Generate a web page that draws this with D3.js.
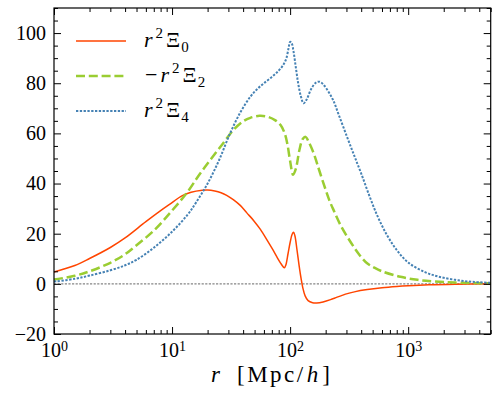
<!DOCTYPE html>
<html><head><meta charset="utf-8">
<script src="https://cdn.jsdelivr.net/npm/d3@7"></script>
<style>body{margin:0;background:#fff}svg{display:block}</style>
</head><body><svg id="c" width="499" height="395"></svg>
<script>
// ---- data ----
const r0  = [1,1.5,2,3,4,6,8,10,12,14.5,18,20,23,26,29,33,38,43,49,56,64,72,78,83,87,89.5,92,96,100,104,107,110,114,119,124,128,134,142,155,168,190,220,250,280,300,350,450,600,800,1000,1500,2500,5000];
const xi0 = [4.7,7.3,10.1,14.5,18.3,24.8,29.2,32.4,35,36.5,37.3,37.4,37.0,36.3,35.3,33.6,31.2,28.3,25.3,21.7,17.3,13.3,10.4,8.3,6.9,6.4,7.5,12,16.5,19.8,20.6,19,14,7.5,2,-1.5,-4.8,-6.7,-7.5,-7.6,-7.2,-6.3,-5.3,-4.5,-4.0,-3.2,-2.3,-1.6,-1.1,-0.8,-0.4,-0.15,0];

const r2  = [1,1.5,2,3,4,5,7,10,13.5,17,21,27,33,40,46,55,65,75,83,90,95,100,106,112,120,128,135,145,160,169,180,200,215,234,270,324,380,449,511,600,860,1200,1650,2500,5000];
const xi2 = [1.7,3.2,5.0,8.4,11.8,15.4,21.2,29.2,36.6,43.5,49.3,56,61.3,64.8,66.2,67,66.6,65.2,63.3,60,55.5,49,43.5,46,53.5,57.8,58.6,56.2,51.5,48,44,37.5,33.3,29.3,23,16.8,12,8.2,6.6,5,2.8,1.6,1.0,0.5,0.2];

const r4  = [1,1.5,2,3,4,5,7,10,13.5,16,20,25,31,38,46,53,60,70,80,88,93,97,100,103,107,112,117,123,130,138,150,165,178,195,230,260,304,350,400,470,550,660,800,1000,1400,1800,2500,3500,5000];
const xi4 = [0.9,2.0,3.3,5.4,7.4,9.6,14.4,20.8,27.5,32.5,40,49.3,60,68.5,74.6,77.8,80,82.5,85,87.5,90,94,96.5,96,92.5,86,80,75,72,73.5,77.5,80.2,80.6,79,73.5,67,58.5,51,44,35,27,19.5,13.5,8.5,4.6,2.9,1.6,0.8,0.4];

const xMajor = [1,10,100,1000];
const xExp   = ["0","1","2","3"];
const yMajor = [-20,0,20,40,60,80,100];
const labels = [["","r","2","Ξ","0"],["−","r","2","Ξ","2"],["","r","2","Ξ","4"]];

// ---- layout ----
const FONT = "'Liberation Serif','Times New Roman','DejaVu Serif',serif";
const svg = d3.select("#c");
const L=54, R=490.7, T=8, B=334;
const x = d3.scaleLog().domain([1,5000]).range([L,R]);
const y = d3.scaleLinear().domain([-20,110]).range([B,T]);

const xMinor = [];
for (let d=1; d<=1000; d*=10) for (let k=2;k<=9;k++){ const v=d*k; if (v<=5000) xMinor.push(v); }
const yMinor = d3.range(-20,111,5).filter(v=>v%20!==0);

// zero line
svg.append("line").attr("x1",L).attr("x2",R).attr("y1",y(0)).attr("y2",y(0))
  .attr("stroke","#858585").attr("stroke-width",1.3).attr("stroke-dasharray","2.2,1.4");

const series = [
  {r:r0, v:xi0, color:"#ff4500", w:1.5, dash:null},
  {r:r2, v:xi2, color:"#9acd32", w:2.5, dash:"9,3.8"},
  {r:r4, v:xi4, color:"#4682b4", w:2, dash:"2.3,1.5"}
];
const line = d3.line().x(d=>x(d[0])).y(d=>y(d[1])).curve(d3.curveCatmullRom.alpha(0.5));
series.forEach(s=>{
  svg.append("path").datum(s.r.map((rv,i)=>[rv,s.v[i]]))
    .attr("d",line).attr("fill","none").attr("stroke",s.color)
    .attr("stroke-width",s.w).attr("stroke-dasharray",s.dash);
});

// axes (ticks inward on all sides)
function styleAxis(g){ g.select(".domain").remove(); g.selectAll("line").attr("stroke","#000").attr("stroke-width",1); }
const gB = svg.append("g").attr("transform",`translate(0,${B})`)
  .call(d3.axisBottom(x).tickValues(xMajor).tickSize(-7).tickPadding(9).tickFormat(""));
styleAxis(gB);
gB.selectAll(".tick text").each(function(d,i){
  const t=d3.select(this).attr("font-size",20).style("font-family",FONT).attr("fill","#000");
  t.append("tspan").text("10");
  t.append("tspan").attr("dy","-0.45em").attr("font-size",14).text(xExp[i]);
});
svg.append("g").attr("transform",`translate(0,${B})`).call(d3.axisBottom(x).tickValues(xMinor).tickSize(-4).tickFormat("")).call(styleAxis);
svg.append("g").attr("transform",`translate(0,${T})`).call(d3.axisTop(x).tickValues(xMajor).tickSize(-7).tickFormat("")).call(styleAxis);
svg.append("g").attr("transform",`translate(0,${T})`).call(d3.axisTop(x).tickValues(xMinor).tickSize(-4).tickFormat("")).call(styleAxis);

const gL = svg.append("g").attr("transform",`translate(${L},0)`)
  .call(d3.axisLeft(y).tickValues(yMajor).tickSize(-7).tickPadding(8).tickFormat(d=>d<0?"−"+Math.abs(d):String(d)));
styleAxis(gL);
gL.selectAll(".tick text").attr("font-size",20).style("font-family",FONT).attr("fill","#000");
svg.append("g").attr("transform",`translate(${L},0)`).call(d3.axisLeft(y).tickValues(yMinor).tickSize(-4).tickFormat("")).call(styleAxis);
svg.append("g").attr("transform",`translate(${R},0)`).call(d3.axisRight(y).tickValues(yMajor).tickSize(-7).tickFormat("")).call(styleAxis);
svg.append("g").attr("transform",`translate(${R},0)`).call(d3.axisRight(y).tickValues(yMinor).tickSize(-4).tickFormat("")).call(styleAxis);

// frame
svg.append("rect").attr("x",L).attr("y",T).attr("width",R-L).attr("height",B-T)
  .attr("fill","none").attr("stroke","#000").attr("stroke-width",1.2);

// legend
const legY=[41,76,111];
series.forEach((s,i)=>{
  svg.append("line").attr("x1",76).attr("x2",126).attr("y1",legY[i]).attr("y2",legY[i])
    .attr("stroke",s.color).attr("stroke-width",s.w).attr("stroke-dasharray",s.dash);
  const lab=labels[i];
  const t=svg.append("text").attr("x",144).attr("y",legY[i]+6).attr("font-size",22).style("font-family",FONT).attr("fill","#000");
  if(lab[0]) t.append("tspan").attr("dx",1).text(lab[0]);
  t.append("tspan").attr("font-style","italic").attr("dx",lab[0]?3:0).text(lab[1]);
  t.append("tspan").attr("font-size",15).attr("dy",-9).attr("dx",3).text(lab[2]);
  t.append("tspan").attr("dy",9).attr("dx",3).text(lab[3]);
  t.append("tspan").attr("font-size",15).attr("dy",5).attr("dx",1).text(lab[4]);
});

// x axis title
const xt=svg.append("text").attr("y",382).attr("font-size",23).style("font-family",FONT).attr("fill","#000");
xt.append("tspan").attr("x",211).attr("font-style","italic").text("r");
xt.append("tspan").attr("x",237).attr("letter-spacing",2.5).text("[Mpc/");
xt.append("tspan").attr("font-style","italic").attr("dx",1).attr("letter-spacing",2).text("h");
xt.append("tspan").attr("dx",2).text("]");
</script>
</body></html>
